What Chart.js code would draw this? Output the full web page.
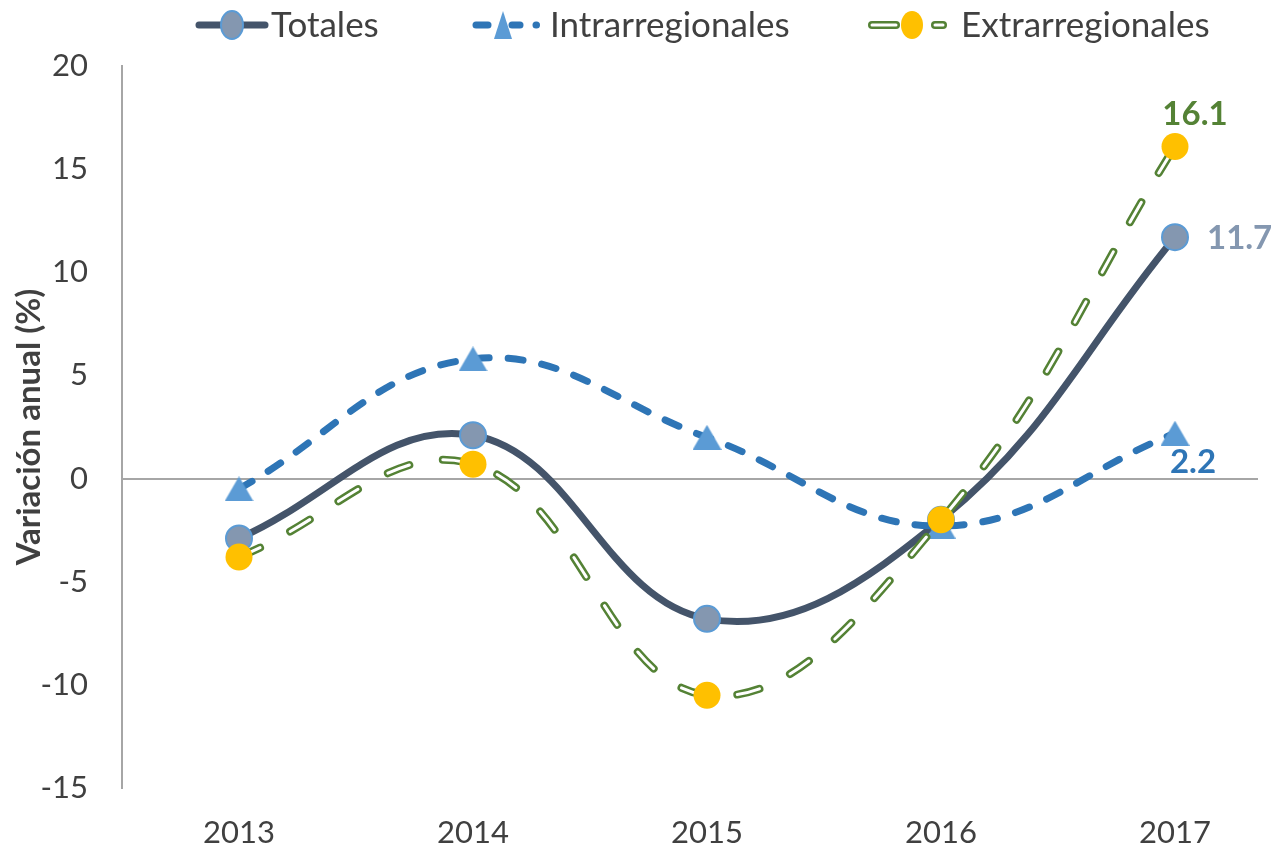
<!DOCTYPE html>
<html>
<head>
<meta charset="utf-8">
<script src="https://cdn.jsdelivr.net/npm/chart.js@4"></script>
<style>
  html, body { margin: 0; padding: 0; background: #fff; }
  canvas { display: block; }
</style>
</head>
<body>
<canvas id="grafico" width="1280" height="852"></canvas>
<script>
const years = [2013, 2014, 2015, 2016, 2017];
const totales = [-2.9, 2.1, -6.8, -2.0, 11.7];
const intrarregionales = [-0.5, 5.8, 2.0, -2.3, 2.2];
const extrarregionales = [-3.8, 0.7, -10.5, -2.0, 16.1];
const yTicks = [-15, -10, -5, 0, 5, 10, 15, 20];

const FONT = "Lato, 'Open Sans', sans-serif";
const TEXT = '#404040';
const PX_POR_ANIO = 234;

const C_TOT = '#44546A', C_TOT_PT = '#8497B0', C_TOT_BD = '#5B9BD5';
const C_INT = '#2E75B6', C_INT_PT = '#5B9BD5';
const C_EXT = '#548235', C_EXT_PT = '#FFC000';

function pts(arr) {
  return arr.map((v, i) => ({ x: years[i], y: v }));
}

// triángulo centrado en su caja (como Excel)
function triangleImg(w, h, color) {
  const c = document.createElement('canvas');
  c.width = w; c.height = h;
  const g = c.getContext('2d');
  g.fillStyle = color;
  g.beginPath();
  g.moveTo(w / 2, 0); g.lineTo(w, h); g.lineTo(0, h);
  g.closePath(); g.fill();
  return c;
}
const tri = triangleImg(29, 25, C_INT_PT);

// ajusta el máximo del eje x para mantener el paso entre años
const espaciado = {
  id: 'espaciado',
  afterLayout(chart) {
    const x = chart.scales.x;
    x.max = x.min + (x.right - x.left) / PX_POR_ANIO;
    x.configure();
  }
};

// etiquetas de datos del último año
const labelsPlugin = {
  id: 'etiquetas',
  afterDatasetsDraw(chart) {
    const ctx = chart.ctx;
    ctx.save();
    ctx.font = 'bold 33px ' + FONT;
    ctx.textBaseline = 'middle';
    const pExt = chart.getDatasetMeta(0).data[4];
    const pTot = chart.getDatasetMeta(4).data[4];
    const pInt = chart.getDatasetMeta(3).data[4];
    ctx.textAlign = 'center';
    ctx.fillStyle = C_EXT;
    ctx.fillText('16.1', pExt.x + 20, pExt.y - 32);
    ctx.textAlign = 'left';
    ctx.fillStyle = C_TOT_PT;
    ctx.fillText('11.7', pTot.x + 32, pTot.y + 1);
    ctx.textAlign = 'center';
    ctx.fillStyle = C_INT;
    ctx.fillText('2.2', pInt.x + 18, pInt.y + 29);
    ctx.restore();
  }
};

// leyenda al estilo Excel
const legendPlugin = {
  id: 'leyenda',
  afterDraw(chart) {
    const ctx = chart.ctx;
    const y = 25;
    ctx.save();
    ctx.lineCap = 'round';
    // Totales
    ctx.strokeStyle = C_TOT; ctx.lineWidth = 7;
    ctx.beginPath(); ctx.moveTo(199, y); ctx.lineTo(265, y); ctx.stroke();
    ctx.fillStyle = C_TOT_PT; ctx.strokeStyle = C_TOT_BD; ctx.lineWidth = 2;
    ctx.beginPath(); ctx.ellipse(232, y, 11, 14, 0, 0, Math.PI * 2); ctx.fill(); ctx.stroke();
    // Intrarregionales
    ctx.strokeStyle = C_INT; ctx.lineWidth = 7;
    ctx.beginPath(); ctx.moveTo(476, y); ctx.lineTo(488, y); ctx.stroke();
    ctx.beginPath(); ctx.moveTo(512, y); ctx.lineTo(520, y); ctx.stroke();
    ctx.beginPath(); ctx.moveTo(536, y); ctx.lineTo(536.5, y); ctx.stroke();
    ctx.fillStyle = C_INT_PT;
    ctx.beginPath(); ctx.moveTo(503, y - 14); ctx.lineTo(512, y + 14); ctx.lineTo(494, y + 14); ctx.closePath(); ctx.fill();
    // Extrarregionales
    ctx.strokeStyle = C_EXT; ctx.lineWidth = 8;
    ctx.beginPath(); ctx.moveTo(872, y); ctx.lineTo(896, y); ctx.stroke();
    ctx.beginPath(); ctx.moveTo(935, y); ctx.lineTo(943, y); ctx.stroke();
    ctx.strokeStyle = '#fff'; ctx.lineWidth = 3;
    ctx.beginPath(); ctx.moveTo(872, y); ctx.lineTo(896, y); ctx.stroke();
    ctx.beginPath(); ctx.moveTo(935, y); ctx.lineTo(943, y); ctx.stroke();
    ctx.fillStyle = C_EXT_PT;
    ctx.beginPath(); ctx.ellipse(912, y, 11, 14, 0, 0, Math.PI * 2); ctx.fill();
    // textos
    ctx.fillStyle = TEXT;
    ctx.font = '35px ' + FONT;
    ctx.textBaseline = 'middle';
    ctx.textAlign = 'left';
    ctx.fillText('Totales', 271, y + 1);
    ctx.fillText('Intrarregionales', 550, y + 1);
    ctx.fillText('Extrarregionales', 961, y + 1);
    ctx.restore();
  }
};

const ctx = document.getElementById('grafico');
new Chart(ctx, {
  type: 'line',
  data: {
    datasets: [
      {
        label: 'Extrarregionales',
        data: pts(extrarregionales),
        showLine: false,
        pointRadius: 13.5,
        pointHoverRadius: 13.5,
        pointBackgroundColor: C_EXT_PT,
        pointBorderWidth: 0,
        order: 1
      },
      {
        label: 'ext-interior',
        data: pts(extrarregionales),
        borderColor: '#ffffff',
        borderWidth: 3,
        borderDash: [23, 34],
        borderCapStyle: 'round',
        tension: 0.4,
        pointRadius: 0,
        order: 2
      },
      {
        label: 'ext-borde',
        data: pts(extrarregionales),
        borderColor: C_EXT,
        borderWidth: 8,
        borderDash: [23, 34],
        borderCapStyle: 'round',
        tension: 0.4,
        pointRadius: 0,
        order: 3
      },
      {
        label: 'Intrarregionales',
        data: pts(intrarregionales),
        borderColor: C_INT,
        borderWidth: 7,
        borderDash: [15, 19],
        borderCapStyle: 'round',
        tension: 0.4,
        pointStyle: tri,
        pointRadius: 15,
        pointHoverRadius: 15,
        order: 4
      },
      {
        label: 'Totales',
        data: pts(totales),
        borderColor: C_TOT,
        borderWidth: 7,
        tension: 0.4,
        pointRadius: 13,
        pointHoverRadius: 13,
        pointBackgroundColor: C_TOT_PT,
        pointBorderColor: C_TOT_BD,
        pointBorderWidth: 2,
        order: 5
      }
    ]
  },
  options: {
    responsive: false,
    animation: false,
    events: [],
    layout: { padding: { top: 66, right: 0, left: 0, bottom: 0 } },
    plugins: {
      legend: { display: false },
      tooltip: { enabled: false }
    },
    scales: {
      x: {
        type: 'linear',
        min: 2012.5,
        max: 2017.45,
        afterBuildTicks: s => { s.ticks = years.map(v => ({ value: v })); },
        afterFit: s => { s.height = 64; s.paddingLeft = 0; s.paddingRight = 0; },
        grid: { display: false, drawTicks: false },
        border: { display: false },
        ticks: {
          padding: 26,
          color: TEXT,
          font: { family: FONT, size: 31 },
          callback: v => String(v)
        }
      },
      y: {
        min: -15,
        max: 20,
        afterBuildTicks: s => { s.ticks = yTicks.map(v => ({ value: v })); },
        afterFit: s => { s.width = 122; },
        grid: {
          drawTicks: false,
          color: c => (c.tick && c.tick.value === 0 ? '#a6a6a6' : 'rgba(0,0,0,0)'),
          lineWidth: 2
        },
        border: { display: true, color: '#a6a6a6', width: 2 },
        ticks: {
          padding: 34,
          color: TEXT,
          font: { family: FONT, size: 31 },
          callback: v => String(v)
        },
        title: {
          display: true,
          text: 'Variación anual (%)',
          color: TEXT,
          font: { family: FONT, size: 33, weight: 'bold' },
          padding: { top: 10, bottom: 0 }
        }
      }
    }
  },
  plugins: [espaciado, labelsPlugin, legendPlugin]
});
</script>
</body>
</html>
